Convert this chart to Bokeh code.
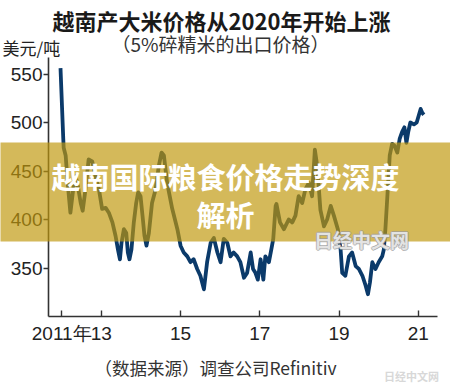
from bokeh.plotting import figure
from bokeh.models import Range1d, FixedTicker, Label, BoxAnnotation
from bokeh.embed import file_html
from bokeh.resources import INLINE

# ---------------- data ----------------
years = [2011.97, 2012.04, 2012.05, 2012.10, 2012.15, 2012.22, 2012.29, 2012.35, 2012.41, 2012.48,
         2012.53, 2012.60, 2012.68, 2012.77, 2012.85, 2012.94, 2013.02, 2013.11, 2013.19, 2013.28,
         2013.36, 2013.42, 2013.47, 2013.51, 2013.57, 2013.63, 2013.67, 2013.71, 2013.76, 2013.82,
         2013.88, 2013.93, 2013.99, 2014.04, 2014.09, 2014.14, 2014.20, 2014.28, 2014.37, 2014.45,
         2014.52, 2014.58, 2014.66, 2014.79, 2014.92, 2015.00, 2015.08, 2015.17, 2015.25, 2015.33,
         2015.42, 2015.50, 2015.59, 2015.67, 2015.76, 2015.84, 2015.93, 2016.01, 2016.09, 2016.18,
         2016.26, 2016.34, 2016.43, 2016.51, 2016.60, 2016.68, 2016.77, 2016.83, 2016.89, 2016.95,
         2017.02, 2017.09, 2017.14, 2017.23, 2017.29, 2017.34, 2017.40, 2017.42, 2017.51, 2017.61,
         2017.73, 2017.82, 2017.90, 2017.98, 2018.07, 2018.15, 2018.24, 2018.32, 2018.39, 2018.45,
         2018.53, 2018.62, 2018.70, 2018.79, 2018.87, 2018.97, 2019.04, 2019.08, 2019.16, 2019.25,
         2019.33, 2019.42, 2019.50, 2019.59, 2019.67, 2019.73, 2019.78, 2019.84, 2019.92, 2020.00,
         2020.09, 2020.13, 2020.17, 2020.22, 2020.28, 2020.34, 2020.40, 2020.47, 2020.53, 2020.59,
         2020.65, 2020.70, 2020.75, 2020.80, 2020.89, 2020.96, 2021.01, 2021.06, 2021.10, 2021.14]
prices = [556, 483, 474, 466, 438, 407, 431, 445, 434, 417,
          409, 431, 462, 460, 445, 431, 411, 412, 407, 397,
          383, 369, 359, 376, 390, 386, 366, 359, 369, 397,
          417, 428, 424, 404, 383, 373, 386, 417, 431, 455,
          469, 466, 438, 411, 390, 373, 366, 362, 356, 359,
          349, 342, 328, 356, 376, 381, 366, 356, 380, 376,
          362, 366, 362, 356, 340, 345, 366, 349, 345, 338,
          359, 338, 362, 356, 369, 380, 414, 416, 397, 390,
          400, 397, 404, 424, 417, 431, 438, 424, 472, 455,
          410, 393, 400, 414, 404, 390, 369, 345, 342, 362,
          366, 352, 349, 342, 332, 323, 335, 356, 349, 356,
          362, 369, 390, 424, 466, 478, 476, 469, 483, 490,
          495, 479, 491, 500, 498, 500, 507, 514, 510, 508]

x_ticks = [2012, 2013, 2015, 2017, 2019, 2021]
x_tick_labels = ["2011年", "13", "15", "17", "19", "21"]
y_ticks = [350, 400, 450, 500, 550]
x_axis_span = (2011.667, 2021.486)
y_axis_span = (300, 567)

title_text = "越南产大米价格从2020年开始上涨"
subtitle_text = "（5%碎精米的出口价格）"
unit_text = "美元/吨"
source_text = "（数据来源）调查公司Refinitiv"
banner_lines = ["越南国际粮食价格走势深度", "解析"]
watermark_text = "日经中文网"

# ---------------- layout ----------------
W, H = 450, 387
PX_PER_YEAR = 39.62
PX_PER_UNIT = 0.97
XS = x_axis_span[0] - 48 / PX_PER_YEAR
XE = XS + W / PX_PER_YEAR
YE = y_axis_span[0] + 316 / PX_PER_UNIT
YS = YE - H / PX_PER_UNIT


def cx(px):
    """canvas x pixel -> data x"""
    return XS + px / PX_PER_YEAR


def cy(py):
    """canvas y pixel (from top) -> data y"""
    return YE - py / PX_PER_UNIT


CJK = "Noto Sans CJK SC"
NUM = "Liberation Sans"

p = figure(width=W, height=H, x_range=Range1d(XS, XE), y_range=Range1d(YS, YE),
           output_backend="svg", toolbar_location=None,
           min_border=0, min_border_left=0, min_border_right=0,
           min_border_top=0, min_border_bottom=0)
p.title.visible = False
p.outline_line_color = None
p.xgrid.visible = False
p.ygrid.visible = False
p.background_fill_color = "white"
p.border_fill_color = "white"

p.line(years, prices, line_color="#0b3a6a", line_width=3.8, line_join="round")

for ax in (p.xaxis[0], p.yaxis[0]):
    ax.axis_line_color = "#333333"
    ax.axis_line_width = 1.6
    ax.major_tick_line_color = "#333333"
    ax.major_tick_line_width = 1.4
    ax.minor_tick_line_color = None
    ax.major_label_text_font = NUM
    ax.major_label_text_font_size = "19px"
    ax.major_label_text_color = "#222222"

p.xaxis.ticker = FixedTicker(ticks=x_ticks)
p.xaxis.major_label_overrides = {t: l for t, l in zip(x_ticks, x_tick_labels)}
p.xaxis.major_tick_in = 6
p.xaxis.major_tick_out = 0
p.xaxis.major_label_standoff = 6
p.xaxis.fixed_location = y_axis_span[0]
p.xaxis.bounds = x_axis_span

p.yaxis.ticker = FixedTicker(ticks=y_ticks)
p.yaxis.major_tick_in = 0
p.yaxis.major_tick_out = 5
p.yaxis.major_label_standoff = 1
p.yaxis.fixed_location = x_axis_span[0]
p.yaxis.bounds = y_axis_span


def add_label(px, py, text, size, color="#222222", bold=False, align="center",
              font=CJK, alpha=1.0, level="annotation"):
    lab = Label(x=cx(px), y=cy(py), text=text, text_align=align, text_baseline="middle",
                text_font=font, text_font_size=f"{size}px",
                text_font_style="bold" if bold else "normal",
                text_color=color, text_alpha=alpha, level=level)
    p.add_layout(lab)
    return lab


add_label(221, 19, title_text, 22, color="#1a1a1a", bold=True)
add_label(220, 43, subtitle_text, 19, color="#333333")
add_label(2, 47, unit_text, 17, color="#222222", align="left")
add_label(215, 367, source_text, 17.5, color="#333333")

# bottom-right faint watermark
add_label(411, 375, watermark_text, 11, color="#d8d8d8", bold=True)

# overlay banner
banner = BoxAnnotation(left=cx(-2), right=cx(452), top=cy(142), bottom=cy(241),
                       fill_color="#c0980c", fill_alpha=0.68, line_color=None, level="overlay")
p.add_layout(banner)

add_label(225, 175, banner_lines[0], 29, color="white", bold=True, level="overlay")
add_label(225, 213, banner_lines[1], 29, color="white", bold=True, level="overlay")

# outlined watermark inside the banner
for dx, dy in [(-1, 0), (1, 0), (0, -1), (0, 1)]:
    add_label(361 + dx, 239 + dy, watermark_text, 19, color="#9a9a9a", bold=True,
              alpha=0.7, level="overlay")
add_label(361, 239, watermark_text, 19, color="#eeeeee", bold=True, alpha=0.9, level="overlay")

open("out.html", "w").write(file_html(p, INLINE))
